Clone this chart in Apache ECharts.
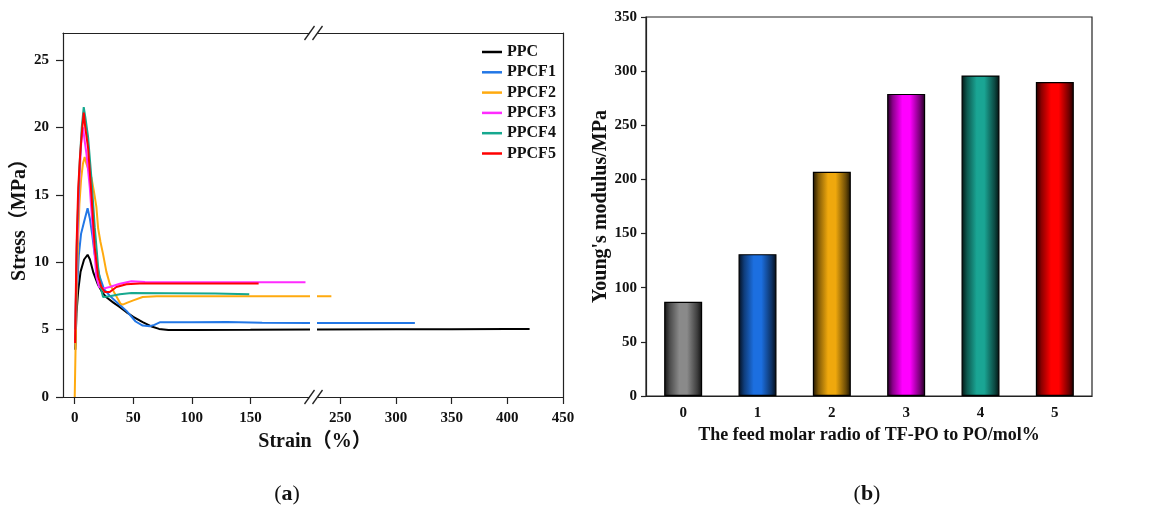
<!DOCTYPE html>
<html>
<head>
<meta charset="utf-8">
<title>PPC / PPCF tensile properties</title>
<script src="https://cdn.jsdelivr.net/npm/echarts@6/dist/echarts.min.js"></script>
<style>
html, body { margin: 0; padding: 0; background: #fff; }
#main { width: 1168px; height: 521px; }
</style>
</head>
<body>
<div id="main"></div>
<script>
// ---- (a) stress-strain curves, points are [strain %, stress MPa]
var curveNames = ['PPC', 'PPCF1', 'PPCF2', 'PPCF3', 'PPCF4', 'PPCF5'];
var curveColors = ['#000000', '#2277e6', '#ffaa0f', '#ff2bff', '#16a88f', '#ff0000'];

var ppc = [[0.5,3.5],[1.5,6.2],[3,7.9],[5,9.3],[8,10.2],[11,10.55],[13,10.2],[16,9.2],[20,8.3],[24,7.7],[27,7.4],[33,7.0],[38,6.7],[44,6.3],[50,5.95],[58,5.55],[65,5.25],[72,5.05],[80,4.97],[100,4.97],[150,4.98],[200,5.0],[230,5.0],[300,5.02],[350,5.03],[400,5.05],[420,5.05]];
var ppcf1 = [[0.5,4],[1.5,7],[2.6,9],[3.5,10.5],[5.4,12.1],[8,13],[11,14],[13,13.2],[15,12],[17,10.6],[21,9.0],[25,8.0],[30,7.5],[35,7.1],[44,6.4],[52,5.6],[58,5.3],[64,5.25],[68,5.35],[73,5.55],[100,5.55],[130,5.57],[160,5.5],[200,5.48],[230,5.48],[280,5.48],[317,5.48]];
var ppcf2 = [[0,0],[1,5],[2,9],[3,12],[4,14.3],[5.5,16.2],[7,17.3],[8.5,17.8],[10,17.3],[12,16.8],[14.2,16.3],[16.5,15.2],[18.5,14.1],[20,12.5],[22,11.5],[24.2,10.6],[27,9.3],[29.9,8.4],[34.2,7.67],[39,6.93],[41,6.85],[45,7.0],[50,7.17],[58,7.42],[70,7.47],[100,7.47],[150,7.47],[200,7.47],[230,7.47],[242,7.47]];
var ppcf3 = [[0.5,5],[2,11],[4,16],[5.5,18.8],[7.1,20.0],[8.5,19],[10,18.05],[12.8,15.6],[15.7,12.1],[18.5,8.9],[20.8,8.16],[24.2,8.04],[29.9,8.16],[38.5,8.4],[48.4,8.58],[60,8.53],[100,8.52],[150,8.52],[197,8.52]];
var ppcf4 = [[0.5,5],[2,12],[4,17],[6,20],[7.7,21.5],[9,20.8],[11.4,19.3],[14.2,16.3],[17.1,12.6],[20,9.64],[22.8,7.9],[24.2,7.42],[29.9,7.47],[38.5,7.62],[48.4,7.72],[80,7.7],[120,7.68],[149,7.62]];
var ppcf5 = [[0.3,4],[1.5,11],[3,15.5],[4.5,17.8],[6,19.5],[7.7,21.1],[9,20],[11.4,18.5],[14.2,15.1],[17.1,11.1],[20,8.9],[22.8,8.16],[25.6,7.79],[29.9,7.79],[35.6,8.16],[44.2,8.36],[55.6,8.41],[100,8.42],[157,8.42]];
var curves = [ppc, ppcf1, ppcf2, ppcf3, ppcf4, ppcf5];

var strainTicksLeft = [0, 50, 100, 150];
var strainTicksRight = [250, 300, 350, 400, 450];
var stressTicks = [0, 5, 10, 15, 20, 25];

// ---- (b) Young's modulus
var ratios = ['0', '1', '2', '3', '4', '5'];
var modulus = [87, 131, 207, 279, 296, 290];
var barColors = ['#8a8a8a', '#1c6fe0', '#efa80d', '#ff00ff', '#1aa594', '#ff0000'];

var FONT = '"Liberation Serif", "Times New Roman", "Noto Sans CJK SC", serif';
var axisColor = '#222';

function shade(hex, f) {
  var n = parseInt(hex.slice(1), 16);
  var r = Math.round(((n >> 16) & 255) * f);
  var g = Math.round(((n >> 8) & 255) * f);
  var b = Math.round((n & 255) * f);
  return 'rgb(' + r + ',' + g + ',' + b + ')';
}

function barGradient(c) {
  return new echarts.graphic.LinearGradient(0, 0, 1, 0, [
    { offset: 0, color: shade(c, 0.12) },
    { offset: 0.15, color: shade(c, 0.55) },
    { offset: 0.4, color: c },
    { offset: 0.6, color: c },
    { offset: 0.87, color: shade(c, 0.45) },
    { offset: 1, color: shade(c, 0.1) }
  ]);
}

var tickLabel = { color: '#111', fontFamily: FONT, fontWeight: 'bold', fontSize: 15 };
var lineAt = { onZero: false, lineStyle: { color: axisColor, width: 1.2 } };

// stress-strain panel is split into two grids around the axis break
var series = [];
curves.forEach(function (pts, i) {
  [0, 1].forEach(function (k) {
    series.push({
      name: curveNames[i],
      type: 'line',
      xAxisIndex: k,
      yAxisIndex: k,
      data: pts,
      symbol: 'none',
      lineStyle: { color: curveColors[i], width: 2 },
      itemStyle: { color: curveColors[i] },
      z: 2 + i
    });
  });
});

series.push({
  type: 'bar',
  xAxisIndex: 4,
  yAxisIndex: 2,
  barWidth: 38,
  data: modulus.map(function (v, i) {
    return { value: v, itemStyle: { color: barGradient(barColors[i]), borderColor: '#000', borderWidth: 1.2 } };
  })
});

var myChart = echarts.init(document.getElementById('main'));

var option = {
  backgroundColor: '#fff',
  animation: false,
  grid: [
    { left: 63, top: 33, width: 246, height: 364 },
    { left: 318, top: 33, width: 245, height: 364 },
    { left: 646, top: 17, width: 446, height: 379, show: true, borderColor: axisColor, borderWidth: 1.2 }
  ],
  legend: {
    data: curveNames,
    orient: 'vertical',
    left: 477,
    top: 39,
    icon: 'rect',
    itemWidth: 20,
    itemHeight: 2.5,
    itemGap: 4.3,
    textStyle: { fontFamily: FONT, fontWeight: 'bold', fontSize: 16, color: '#111' }
  },
  xAxis: [
    { gridIndex: 0, type: 'value', min: -10, max: 200,
      axisLine: lineAt,
      axisTick: { inside: false, length: 7, customValues: strainTicksLeft, lineStyle: { color: axisColor, width: 1.2 } },
      axisLabel: Object.assign({ margin: 14, customValues: strainTicksLeft }, tickLabel),
      splitLine: { show: false } },
    { gridIndex: 1, type: 'value', min: 230, max: 450,
      axisLine: lineAt,
      axisTick: { inside: false, length: 7, customValues: strainTicksRight, lineStyle: { color: axisColor, width: 1.2 } },
      axisLabel: Object.assign({ margin: 14, customValues: strainTicksRight }, tickLabel),
      splitLine: { show: false } },
    { gridIndex: 0, type: 'value', position: 'top', min: -10, max: 200,
      axisLine: lineAt,
      axisTick: { show: false }, axisLabel: { show: false }, splitLine: { show: false } },
    { gridIndex: 1, type: 'value', position: 'top', min: 230, max: 450,
      axisLine: lineAt,
      axisTick: { show: false }, axisLabel: { show: false }, splitLine: { show: false } },
    { gridIndex: 2, type: 'category', data: ratios,
      name: 'The feed molar radio of TF-PO to PO/mol%',
      nameLocation: 'middle', nameGap: 22,
      nameTextStyle: { fontFamily: FONT, fontWeight: 'bold', fontSize: 18, color: '#111' },
      axisLine: lineAt,
      axisTick: { alignWithLabel: true, length: 6, lineStyle: { color: axisColor, width: 1.2 } },
      axisLabel: Object.assign({ margin: 10 }, tickLabel),
      splitLine: { show: false } }
  ],
  yAxis: [
    { gridIndex: 0, type: 'value', min: 0, max: 27,
      name: 'Stress（MPa）', nameLocation: 'middle', nameGap: 32,
      nameTextStyle: { fontFamily: FONT, fontWeight: 'bold', fontSize: 20, color: '#111' },
      axisLine: Object.assign({ show: true }, lineAt),
      axisTick: { show: true, length: 7, customValues: stressTicks, lineStyle: { color: axisColor, width: 1.2 } },
      axisLabel: Object.assign({ margin: 14, customValues: stressTicks }, tickLabel),
      splitLine: { show: false } },
    { gridIndex: 1, type: 'value', position: 'right', min: 0, max: 27,
      axisLine: Object.assign({ show: true }, lineAt),
      axisTick: { show: false }, axisLabel: { show: false }, splitLine: { show: false } },
    { gridIndex: 2, type: 'value', min: 0, max: 350, interval: 50,
      name: "Young's modulus/MPa", nameLocation: 'middle', nameGap: 34,
      nameTextStyle: { fontFamily: FONT, fontWeight: 'bold', fontSize: 20, color: '#111' },
      axisLine: Object.assign({ show: true }, lineAt),
      axisTick: { show: true, length: 5, lineStyle: { color: axisColor, width: 1.2 } },
      axisLabel: Object.assign({ margin: 9 }, tickLabel),
      splitLine: { show: false } }
  ],
  series: series
};

myChart.setOption(option);

// break marks, shared axis title and panel captions
var breakX = (309 + 318) / 2;
function slashes(y) {
  return [-4, 4].map(function (dx) {
    return {
      type: 'line',
      shape: { x1: breakX + dx - 5, y1: y + 7, x2: breakX + dx + 5, y2: y - 7 },
      style: { stroke: axisColor, lineWidth: 1.3 },
      z: 20
    };
  });
}
var capStyle = {
  fontFamily: FONT, fontSize: 22, fill: '#111',
  textAlign: 'center', textVerticalAlign: 'middle',
  rich: { b: { fontFamily: FONT, fontSize: 22, fontWeight: 'bold' }, p: { fontFamily: FONT, fontSize: 22 } }
};
myChart.setOption({
  graphic: slashes(33).concat(slashes(397)).concat([
    { type: 'text', x: 315, y: 442, z: 20,
      style: { text: 'Strain（%）', fontFamily: FONT, fontWeight: 'bold', fontSize: 20, fill: '#111', textAlign: 'center', textVerticalAlign: 'middle' } },
    { type: 'text', x: 287, y: 494, z: 20, style: Object.assign({ text: '{p|(}{b|a}{p|)}' }, capStyle) },
    { type: 'text', x: 867, y: 494, z: 20, style: Object.assign({ text: '{p|(}{b|b}{p|)}' }, capStyle) }
  ])
});
</script>
</body>
</html>
